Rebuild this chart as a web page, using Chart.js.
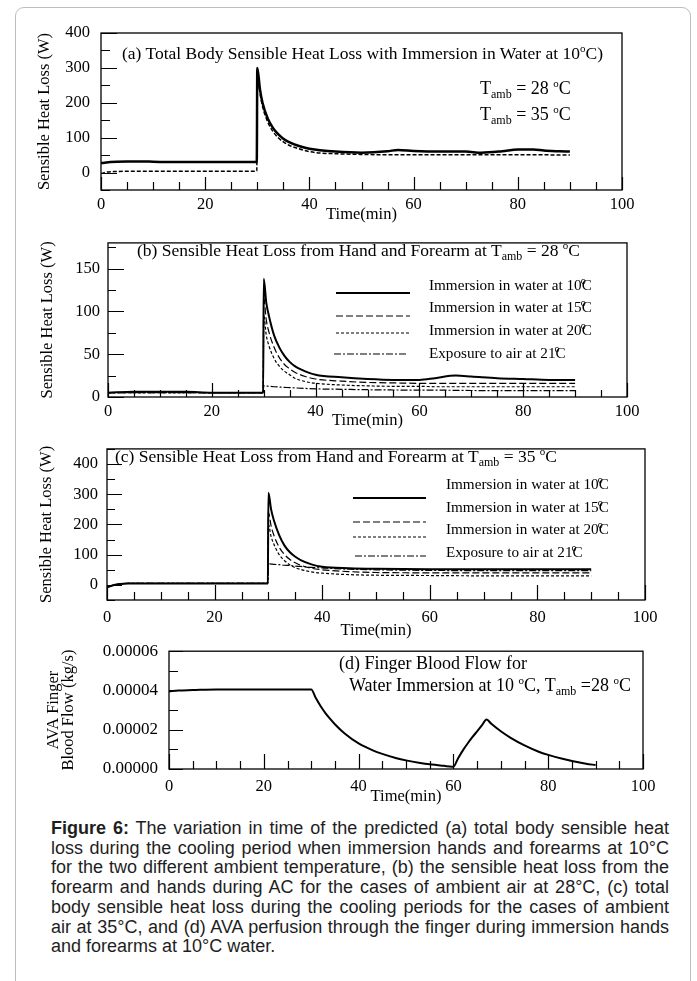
<!DOCTYPE html>
<html><head><meta charset="utf-8">
<script src="https://cdn.jsdelivr.net/npm/chart.js@4"></script>
<style>
body{margin:0;background:#fff;}
#page{position:relative;width:697px;height:981px;overflow:hidden;background:#fff;}
#frame{position:absolute;left:15px;top:7px;width:676px;height:1010px;border:1px solid #bdbdbd;border-radius:9px;box-sizing:border-box;}
.cv{position:absolute;left:0;}
.t{position:absolute;font-family:"Liberation Serif","Times New Roman",serif;font-size:17.5px;line-height:18px;white-space:nowrap;color:#000;}
.t sub{font-size:12px;vertical-align:-4px;line-height:0;}
.t sup{font-size:11px;vertical-align:7px;line-height:0;}
.t.lg{font-size:15.2px;}
.t.lg sup{font-size:10px;vertical-align:6px;margin-right:-4px;margin-left:-1px;}
.t.big{font-size:18px;}
#cap{position:absolute;left:51px;top:819px;width:618px;font-family:"Liberation Sans",Arial,sans-serif;font-size:18px;line-height:19.7px;color:#1e1e1e;}
#cap div{text-align:justify;text-align-last:justify;white-space:nowrap;}
#cap div.last{text-align-last:left;}
</style></head>
<body><div id="page">
<div id="frame"></div>
<canvas id="ca" class="cv" width="697" height="225" style="top:0px"></canvas>
<canvas id="cb" class="cv" width="697" height="206" style="top:225px"></canvas>
<canvas id="cc" class="cv" width="697" height="211" style="top:430px"></canvas>
<canvas id="cd" class="cv" width="697" height="177" style="top:630px"></canvas>

<div class="t" style="left:122px;top:44px">(a) Total Body Sensible Heat Loss with Immersion in Water at 10<sup>o</sup>C)</div>
<div class="t big" style="left:480px;top:79px">T<sub>amb</sub> = 28 <sup>o</sup>C</div>
<div class="t big" style="left:480px;top:105px">T<sub>amb</sub> = 35 <sup>o</sup>C</div>

<div class="t" style="left:137px;top:241px">(b) Sensible Heat Loss from Hand and Forearm at T<sub>amb</sub> = 28 <sup>o</sup>C</div>
<div class="t lg" style="left:429px;top:276px">Immersion in water at 10<sup>o</sup>C</div>
<div class="t lg" style="left:429px;top:298px">Immersion in water at 15<sup>o</sup>C</div>
<div class="t lg" style="left:429px;top:321px">Immersion in water at 20<sup>o</sup>C</div>
<div class="t lg" style="left:429px;top:344px">Exposure to air at 21<sup>o</sup>C</div>

<div class="t" style="left:115px;top:447px">(c) Sensible Heat Loss from Hand and Forearm at T<sub>amb</sub> = 35 <sup>o</sup>C</div>
<div class="t lg" style="left:446px;top:475px">Immersion in water at 10<sup>o</sup>C</div>
<div class="t lg" style="left:446px;top:498px">Immersion in water at 15<sup>o</sup>C</div>
<div class="t lg" style="left:446px;top:520px">Immersion in water at 20<sup>o</sup>C</div>
<div class="t lg" style="left:446px;top:543px">Exposure to air at 21<sup>o</sup>C</div>

<div class="t big" style="left:339px;top:654px">(d) Finger Blood Flow for</div>
<div class="t big" style="left:349px;top:676px">Water Immersion at 10 <sup>o</sup>C, T<sub>amb</sub> =28 <sup>o</sup>C</div>

<div id="cap">
<div><b>Figure 6:</b> The variation in time of the predicted (a) total body sensible heat</div>
<div>loss during the cooling period when immersion hands and forearms at 10°C</div>
<div>for the two different ambient temperature, (b) the sensible heat loss from the</div>
<div>forearm and hands during AC for the cases of ambient air at 28°C, (c) total</div>
<div>body sensible heat loss during the cooling periods for the cases of ambient</div>
<div>air at 35°C, and (d) AVA perfusion through the finger during immersion hands</div>
<div class="last">and forearms at 10°C water.</div>
</div>
</div>
<script>
// ---------- data ----------
const X_TICKS = [0, 20, 40, 60, 80, 100];

const T_A = [0,1,3,5,8,10,15,20,25,29.9,30,30.5,31,32,33,34,35,36,38,40,42,45,50,55,57,60,65,70,73,77,80,83,85,88,90];
const A_T28 = [27,29,31,32,32,31,30,30,30,30,300,240,200,155,128,110,97,88,76,68,64,60,57,61,65,62,60,60,57,61,66,66,63,61,60];
const A_T35 = [-3,1,3,4,4,4,4,4,4,4,295,230,190,145,118,100,88,79,68,60,56,54,52,51,51,51,51,51,51,51,51,51,51,50,50];
const Y_TICKS_A = [0, 100, 200, 300, 400];

const T_B = [0,5,10,15,20,25,29.9,30,30.5,31,32,33,34,35,36,38,40,45,50,55,60,63,67,70,75,80,85,90];
const B_W10 = [5,6,6,6,5,5,5,138,110,95,72,58,48,41,36,30,26,23,21,20,20,22,25,24,22,21,20,20];
const B_W15 = [5,5,5,5,5,5,5,116,90,76,58,46,38,33,29,24,21,18.5,17,16.5,16,16,16,16,16,16,16,16];
const B_W20 = [5,5,5,5,5,5,5,96,72,60,45,36,30,26,22,18,16,14,13,12.5,12.5,12,12,12,12,12,12,12];
const B_AIR = [5,5,5,5,5,5,5,13,12.8,12.5,12,11.6,11.2,11,10.6,10,9.5,9,8.5,8.2,8,8,7.8,7.6,7.5,7.5,7.5,7.5];
const Y_TICKS_B = [0, 50, 100, 150];

const T_C = [0,1,2,4,10,20,29.9,30,30.5,31,32,33,34,35,36,38,40,45,50,60,70,80,90];
const C_W10 = [-8,-2,2,5,5,5,5,305,250,215,165,130,108,93,82,68,60,55,53,52,52,52,52];
const C_W15 = [-8,-2,2,5,5,5,5,240,195,165,125,100,84,73,65,55,50,44,41,40,40,40,40];
const C_W20 = [-8,-2,2,5,5,5,5,200,160,135,100,80,66,57,51,43,39,34,32,31,30,30,30];
const C_AIR = [-8,-2,2,5,5,5,5,70,69,68,67,65,64,62,61,58,56,52,50,48,47,47,47];
const Y_TICKS_C = [0, 100, 200, 300, 400];

const T_D = [0,2,5,10,20,30,31,32,33,34,35,37,40,43,45,48,50,53,55,58,59.7,60,61,62,63,64,65,66,67,68,70,72,75,78,80,83,85,88,90];
const D_FLOW = [3.95e-5,4.0e-5,4.02e-5,4.05e-5,4.05e-5,4.05e-5,3.6e-5,3.2e-5,2.85e-5,2.55e-5,2.28e-5,1.82e-5,1.3e-5,0.95e-5,0.77e-5,0.55e-5,0.44e-5,0.31e-5,0.24e-5,0.16e-5,0.12e-5,0.12e-5,0.55e-5,0.95e-5,1.3e-5,1.62e-5,1.92e-5,2.22e-5,2.52e-5,2.3e-5,1.92e-5,1.6e-5,1.2e-5,0.88e-5,0.72e-5,0.52e-5,0.41e-5,0.27e-5,0.2e-5];
const Y_TICKS_D = [0, 0.00002, 0.00004, 0.00006];

// ---------- helpers ----------
const SERIF = "'Liberation Serif','Times New Roman',serif";
function pts(t, v){ return t.map((x,i)=>({x:x, y:v[i]})); }
function ds(t, v, width, dash){
  return {data: pts(t,v), borderColor:'#000', borderWidth:width, borderDash:dash||[],
          pointRadius:0, fill:false, cubicInterpolationMode:'monotone'};
}

const frameTicks = {
  id:'frameTicks',
  afterDraw(chart, args, o){
    const {ctx, chartArea:{left,right,top,bottom}} = chart;
    const xs = chart.scales.x, ys = chart.scales.y;
    ctx.save();
    ctx.strokeStyle = '#000';
    ctx.lineWidth = 1.3;
    ctx.strokeRect(left, top, right-left, bottom-top);
    ctx.lineWidth = 1.2;
    ctx.beginPath();
    for (let i = 0; i <= 20; i++){
      const v = i*5; const px = Math.round(xs.getPixelForValue(v))+0.5;
      const len = (i % 4 === 0) ? o.xMajor : o.xMinor;
      ctx.moveTo(px, bottom); ctx.lineTo(px, bottom-len);
    }
    const n = Math.round((o.yMax - o.yStart)/o.yStep);
    for (let i = 0; i <= n; i++){
      const v = o.yStart + i*o.yStep; const py = Math.round(ys.getPixelForValue(v))+0.5;
      const isMajor = o.majors.some(m => Math.abs(m - v) < o.yStep*0.01);
      const len = isMajor ? o.yMajorLen : o.yMinorLen;
      ctx.moveTo(left, py); ctx.lineTo(left+len, py);
    }
    ctx.stroke();
    if (o.legend){
      o.legend.forEach(l => {
        const d = chart.data.datasets[l.i];
        ctx.beginPath();
        ctx.lineWidth = d.borderWidth;
        ctx.setLineDash(d.borderDash || []);
        ctx.moveTo(l.x0, l.y); ctx.lineTo(l.x1, l.y);
        ctx.stroke();
      });
      ctx.setLineDash([]);
    }
    ctx.restore();
  }
};

function makeChart(id, cfg){
  cfg.ticks.majors = cfg.yTicks;
  return new Chart(document.getElementById(id), {
    type:'line',
    data:{datasets: cfg.datasets},
    plugins:[frameTicks],
    options:{
      responsive:false, animation:false, devicePixelRatio:1,
      layout:{padding:cfg.pad},
      plugins:{legend:{display:false}, tooltip:{enabled:false}, frameTicks:cfg.ticks},
      scales:{
        x:{type:'linear', min:0, max:100,
           grid:{display:false, drawTicks:false}, border:{display:false},
           afterBuildTicks:s=>{ s.ticks = X_TICKS.map(v=>({value:v})); },
           afterFit:s=>{ s.height = cfg.xH; },
           ticks:{color:'#000', padding:cfg.xPad, maxRotation:0, autoSkip:false, font:{family:SERIF, size:16.5}},
           title:{display:true, text:'Time(min)', color:'#000', padding:{top:0,bottom:0}, font:{family:SERIF, size:16.5}}},
        y:{type:'linear', min:cfg.yMin, max:cfg.yMax,
           grid:{display:false, drawTicks:false}, border:{display:false},
           afterBuildTicks:s=>{ s.ticks = cfg.yTicks.map(v=>({value:v})); },
           afterFit:s=>{ s.width = cfg.yW; },
           ticks:{color:'#000', padding:cfg.yPad, autoSkip:false, font:{family:SERIF, size:cfg.yFont||16.5},
                  callback: cfg.yFmt || (v=>v)},
           title:{display:true, text:cfg.yTitle, color:'#000', padding:{top:4,bottom:0},
                  font:{family:SERIF, size:16.5, lineHeight:cfg.yLH||1.2}}}
      }
    }
  });
}

makeChart('ca', {
  datasets:[ds(T_A,A_T28,2.5), ds(T_A,A_T35,1.5,[4,2])],
  pad:{left:31, top:33, right:75, bottom:0}, xH:35, yW:70, xPad:5, yPad:11,
  yMin:-50, yMax:400, yTicks:Y_TICKS_A, yTitle:'Sensible Heat Loss (W)',
  ticks:{xMajor:13, xMinor:8, yStart:-50, yMax:400, yStep:50, yMajorLen:16, yMinorLen:9}
});

makeChart('cb', {
  datasets:[ds(T_B,B_W10,2), ds(T_B,B_W15,1.2,[7,3]), ds(T_B,B_W20,1.2,[3,2]), ds(T_B,B_AIR,1.2,[7,2,2,2])],
  pad:{left:34, top:6, right:70, bottom:0}, xH:34, yW:74, xPad:5, yPad:8,
  yMin:0, yMax:180, yTicks:Y_TICKS_B, yTitle:'Sensible Heat Loss (W)',
  ticks:{xMajor:14, xMinor:7, yStart:0, yMax:175, yStep:25, yMajorLen:16, yMinorLen:8,
    legend:[{i:0,x0:336,x1:410,y:68},{i:1,x0:336,x1:410,y:91},{i:2,x0:336,x1:410,y:108},{i:3,x0:334,x1:407,y:129}]}
});

makeChart('cc', {
  datasets:[ds(T_C,C_W10,2), ds(T_C,C_W15,1.2,[7,3]), ds(T_C,C_W20,1.2,[3,2]), ds(T_C,C_AIR,1.2,[7,2,2,2])],
  pad:{left:33, top:8, right:52, bottom:0}, xH:41, yW:74, xPad:8, yPad:9,
  yMin:-50, yMax:450, yTicks:Y_TICKS_C, yTitle:'Sensible Heat Loss (W)',
  ticks:{xMajor:15, xMinor:8, yStart:-50, yMax:450, yStep:50, yMajorLen:15, yMinorLen:8,
    legend:[{i:0,x0:353,x1:426,y:68},{i:1,x0:353,x1:426,y:92},{i:2,x0:353,x1:426,y:107},{i:3,x0:355,x1:426,y:126}]}
});

makeChart('cd', {
  datasets:[ds(T_D,D_FLOW,2)],
  pad:{left:42, top:11, right:54, bottom:0}, xH:38, yW:127, xPad:8, yPad:11, yFont:17,
  yMin:0, yMax:0.00006, yTicks:Y_TICKS_D, yTitle:['AVA Finger','Blood Flow (kg/s)'], yLH:'15px',
  yFmt: v=>Number(v).toFixed(5),
  ticks:{xMajor:15, xMinor:8, yStart:0, yMax:0.00006, yStep:0.00001, yMajorLen:14, yMinorLen:9}
});

// keep caption lines inside their justified width
document.querySelectorAll('#cap div').forEach(d => {
  const probe = document.createElement('span');
  probe.innerHTML = d.innerHTML;
  probe.style.whiteSpace = 'nowrap';
  probe.style.visibility = 'hidden';
  probe.style.position = 'absolute';
  d.parentNode.appendChild(probe);
  const w = probe.getBoundingClientRect().width;
  probe.remove();
  if (w > 618) d.style.letterSpacing = ((618 - w) / d.textContent.length) + 'px';
});
</script>
</body></html>
